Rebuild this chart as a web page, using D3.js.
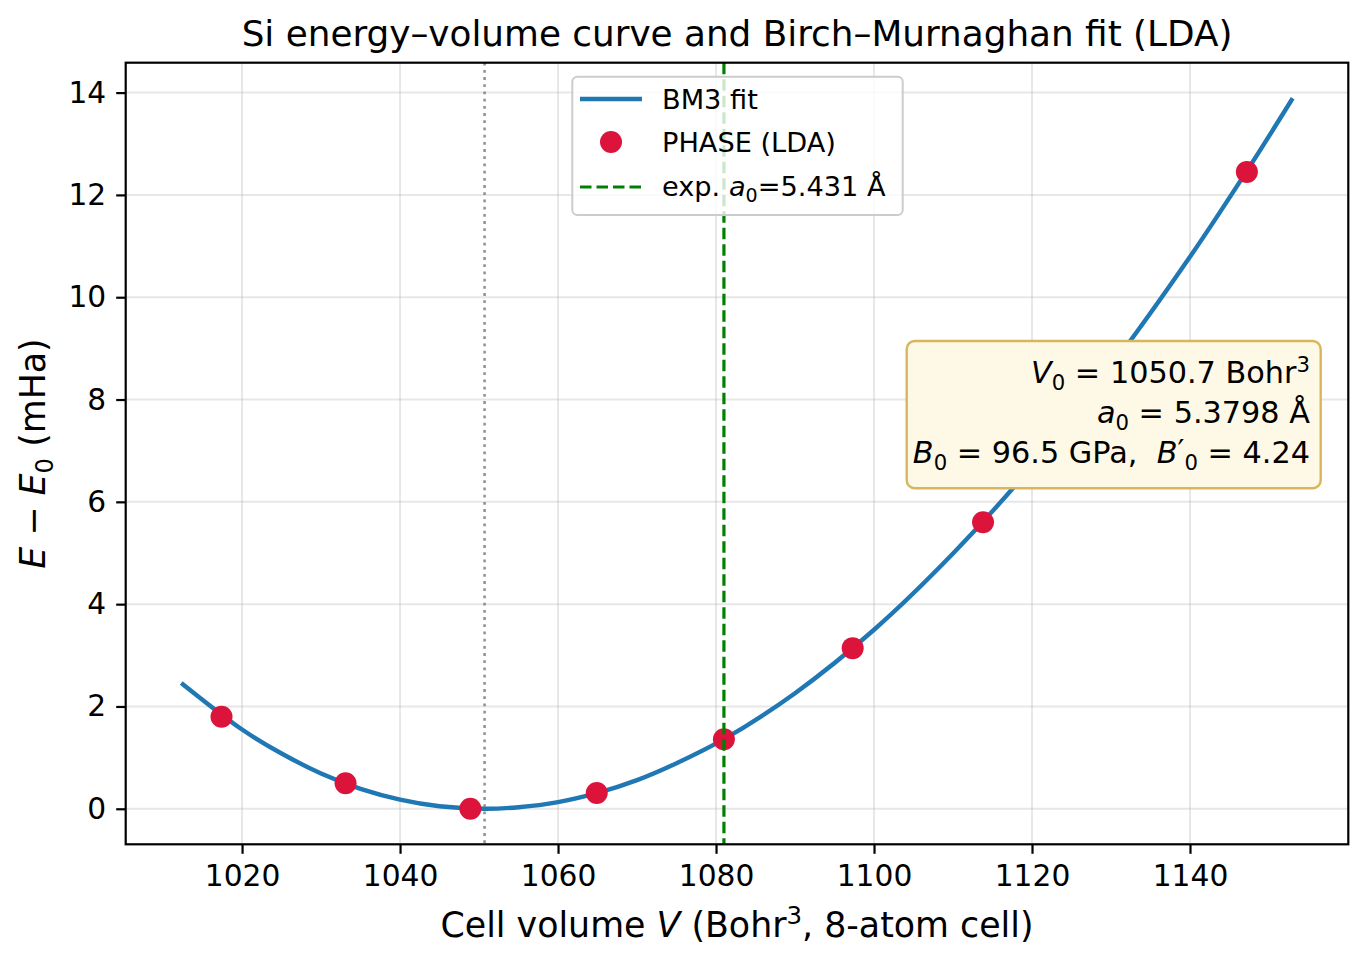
<!DOCTYPE html>
<html>
<head>
<meta charset="utf-8">
<script src="https://cdn.jsdelivr.net/npm/d3@7"></script>
<style>
  body { margin: 0; background: #fff; }
  svg text { font-family: "DejaVu Sans", sans-serif; fill: #000; }
</style>
</head>
<body>
<div id="chart_container"></div>
<script>

// PHASE (LDA) points
const volumes = [1017.4, 1033.1, 1048.9, 1064.9, 1081.0, 1097.3, 1113.8, 1147.2]
const energies = [1.80, 0.50, 0.00, 0.31, 1.36, 3.14, 5.60, 12.45]

// BM3 fit curve
const fitVolumes = [1012.3, 1020, 1025, 1030, 1035, 1040, 1045, 1050.7, 1055, 1060, 1065, 1070, 1075, 1081, 1090, 1100, 1110, 1120, 1130, 1140, 1147.2, 1153]
const fitEnergies = [2.46, 1.55, 1.08, 0.69, 0.39, 0.18, 0.05, 0.00, 0.03, 0.13, 0.31, 0.56, 0.89, 1.36, 2.26, 3.50, 4.99, 6.70, 8.64, 10.79, 12.47, 13.89]

const v0Fit = 1050.7
const vExp = 1081.0

const xTicks = [1020, 1040, 1060, 1080, 1100, 1120, 1140]
const yTicks = [0, 2, 4, 6, 8, 10, 12, 14]

const width = 1368
const height = 967
const margin = ({top: 62.7, right: 19.7, bottom: 122.7, left: 125.7})

const fitBlue = '#1f77b4'
const red = '#dc143c'

let x = d3.scaleLinear()
	.domain([1005.27, 1160.04])
	.range([margin.left, width - margin.right])

let y = d3.scaleLinear()
	.domain([-0.6945, 14.5845])
	.range([height - margin.bottom, margin.top])

const svg = d3.select('#chart_container').append('svg')
	.attr('width', width)
	.attr('height', height)

// writes mathtext-like pieces as tspans, keeping track of the baseline
function rich(sel, parts, size){
	let cur = 0
	parts.forEach(p => {
		let target = 0
		let t = sel.append('tspan').text(p.t)
		if (p.i) t.attr('font-style', 'italic')
		if (p.sub){
			target = size * 0.22
			t.attr('font-size', size * 0.7)
		}
		if (p.sup){
			target = -size * 0.36
			t.attr('font-size', size * (p.big ? 1 : 0.7))
			if (p.big) target = -size * 0.05
		}
		if (p.dx) t.attr('dx', p.dx * size)
		t.attr('dy', target - cur)
		cur = target
	})
	return sel
}

// grid
svg.append('g')
	.selectAll('line')
	.data(xTicks)
	.join('line')
	.attr('x1', d => x(d)).attr('x2', d => x(d))
	.attr('y1', margin.top).attr('y2', height - margin.bottom)
	.attr('stroke', '#b0b0b0').attr('stroke-opacity', 0.3).attr('stroke-width', 2)

svg.append('g')
	.selectAll('line')
	.data(yTicks)
	.join('line')
	.attr('y1', d => y(d)).attr('y2', d => y(d))
	.attr('x1', margin.left).attr('x2', width - margin.right)
	.attr('stroke', '#b0b0b0').attr('stroke-opacity', 0.3).attr('stroke-width', 2)

// axes
svg.append('g')
	.attr('transform', `translate(0,${height - margin.bottom})`)
	.call(d3.axisBottom(x).tickValues(xTicks).tickFormat(d3.format('d')).tickSize(9.5).tickPadding(11.5).tickSizeOuter(0))
	.call(g => g.select('.domain').remove())
	.call(g => g.selectAll('line').attr('stroke-width', 2.2))
	.call(g => g.selectAll('text').attr('font-size', 29.7).attr('font-family', 'DejaVu Sans'))

svg.append('g')
	.attr('transform', `translate(${margin.left},0)`)
	.call(d3.axisLeft(y).tickValues(yTicks).tickFormat(d3.format('d')).tickSize(9.5).tickPadding(10).tickSizeOuter(0))
	.call(g => g.select('.domain').remove())
	.call(g => g.selectAll('line').attr('stroke-width', 2.2))
	.call(g => g.selectAll('text').attr('font-size', 29.7).attr('font-family', 'DejaVu Sans'))

// fit curve
let line = d3.line()
	.x((d, i) => x(fitVolumes[i]))
	.y(d => y(d))
	.curve(d3.curveCatmullRom)

svg.append('path')
	.datum(fitEnergies)
	.attr('fill', 'none')
	.attr('stroke', fitBlue)
	.attr('stroke-width', 4.4)
	.attr('d', line)

// data points
svg.append('g')
	.selectAll('circle')
	.data(energies)
	.join('circle')
	.attr('cx', (d, i) => x(volumes[i]))
	.attr('cy', d => y(d))
	.attr('r', 11)
	.attr('fill', red)

// V0 marker and experimental volume
svg.append('line')
	.attr('x1', x(v0Fit)).attr('x2', x(v0Fit))
	.attr('y1', margin.top).attr('y2', height - margin.bottom)
	.attr('stroke', '#808080').attr('stroke-opacity', 0.85)
	.attr('stroke-width', 2.6).attr('stroke-dasharray', '2.8,4.4')

svg.append('line')
	.attr('x1', x(vExp)).attr('x2', x(vExp))
	.attr('y1', margin.top).attr('y2', height - margin.bottom)
	.attr('stroke', 'green')
	.attr('stroke-width', 3.2).attr('stroke-dasharray', '11.5,5')

// frame
svg.append('rect')
	.attr('x', margin.left).attr('y', margin.top)
	.attr('width', width - margin.left - margin.right)
	.attr('height', height - margin.top - margin.bottom)
	.attr('fill', 'none').attr('stroke', '#000').attr('stroke-width', 2.2)

// legend
const lg = svg.append('g')
lg.append('rect')
	.attr('x', 572.3).attr('y', 76.7).attr('width', 330.4).attr('height', 138.3)
	.attr('rx', 5).attr('fill', '#fff').attr('fill-opacity', 0.8)
	.attr('stroke', '#cccccc').attr('stroke-width', 2)

lg.append('line').attr('x1', 580).attr('x2', 642).attr('y1', 99).attr('y2', 99)
	.attr('stroke', fitBlue).attr('stroke-width', 4.4)
lg.append('circle').attr('cx', 611).attr('cy', 142).attr('r', 11).attr('fill', red)
lg.append('line').attr('x1', 580).attr('x2', 642).attr('y1', 187).attr('y2', 187)
	.attr('stroke', 'green').attr('stroke-width', 3.2).attr('stroke-dasharray', '11.5,5')

lg.append('text').attr('x', 662).attr('y', 109).attr('font-size', 27.2).text('BM3 fit')
lg.append('text').attr('x', 662).attr('y', 152).attr('font-size', 27.2).text('PHASE (LDA)')
rich(lg.append('text').attr('x', 662).attr('y', 196).attr('font-size', 27.2),
	[{t: 'exp. '}, {t: 'a', i: true}, {t: '0', sub: true}, {t: '=5.431 Å'}], 27.2)

// fit parameter box
const bx = svg.append('g')
bx.append('rect')
	.attr('x', 906.7).attr('y', 341).attr('width', 414).attr('height', 147.3)
	.attr('rx', 8).attr('fill', '#fef9e6')
	.attr('stroke', '#d8b65c').attr('stroke-width', 2.4)

const fs = 30.3
rich(bx.append('text').attr('x', 1310).attr('y', 383).attr('text-anchor', 'end').attr('font-size', fs),
	[{t: 'V', i: true}, {t: '0', sub: true}, {t: ' = 1050.7 Bohr'}, {t: '3', sup: true}], fs)
rich(bx.append('text').attr('x', 1310).attr('y', 423).attr('text-anchor', 'end').attr('font-size', fs),
	[{t: 'a', i: true}, {t: '0', sub: true}, {t: ' = 5.3798 Å'}], fs)
rich(bx.append('text').attr('x', 1310).attr('y', 463).attr('text-anchor', 'end').attr('font-size', fs),
	[{t: 'B', i: true}, {t: '0', sub: true}, {t: ' = 96.5 GPa,\u00a0\u00a0'}, {t: 'B', i: true}, {t: '′', sup: true, big: true}, {t: '0', sub: true}, {t: ' = 4.24'}], fs)

// titles
svg.append('text')
	.attr('x', (margin.left + width - margin.right) / 2).attr('y', 46)
	.attr('text-anchor', 'middle').attr('font-size', 35.8)
	.text('Si energy–volume curve and Birch–Murnaghan fit (LDA)')

rich(svg.append('text')
	.attr('x', (margin.left + width - margin.right) / 2).attr('y', 937)
	.attr('text-anchor', 'middle').attr('font-size', 34.8),
	[{t: 'Cell volume '}, {t: 'V', i: true}, {t: ' (Bohr'}, {t: '3', sup: true}, {t: ', 8-atom cell)'}], 34.8)

rich(svg.append('text')
	.attr('transform', `translate(45,${(margin.top + height - margin.bottom) / 2}) rotate(-90)`)
	.attr('text-anchor', 'middle').attr('font-size', 34.8),
	[{t: 'E', i: true}, {t: ' − '}, {t: 'E', i: true}, {t: '0', sub: true}, {t: ' (mHa)'}], 34.8)

</script>
</body>
</html>
